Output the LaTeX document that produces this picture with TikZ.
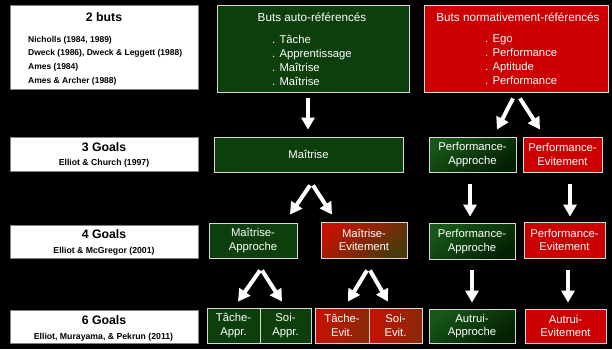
\documentclass[tikz,border=0pt]{standalone}
\usepackage{fontspec}
\setmainfont{Liberation Sans}
\usetikzlibrary{arrows.meta,calc}
\definecolor{gflat}{HTML}{0C3F0C}
\definecolor{gtop}{HTML}{175717}
\definecolor{gbot}{HTML}{032003}
\definecolor{rflat}{HTML}{CC0000}
\definecolor{rtl}{HTML}{C41200}
\definecolor{olbr}{HTML}{4A3A0A}
\definecolor{rbr}{HTML}{8A2A08}
\definecolor{boxline}{HTML}{D8D8D8}
\tikzset{
  cbox/.style={draw=boxline, line width=0.8pt, inner sep=0pt, text=white,
    align=center, font=\fontsize{11.3}{13.5}\selectfont},
  greenbox/.style={cbox, fill=gflat},
  greengrad/.style={cbox, top color=gtop, bottom color=gbot, shading angle=35},
  redbox/.style={cbox, fill=rflat},
  mixbox/.style={cbox, top color=rtl, bottom color=olbr, shading angle=40},
  redgrad/.style={cbox, left color=rtl, right color=rbr},
  wbox/.style={draw=gray, line width=0.6pt, fill=white, inner sep=0pt},
  wtitle/.style={font=\bfseries\fontsize{12.3}{14}\selectfont, text=black, inner sep=0pt},
  wref/.style={font=\bfseries\fontsize{8.7}{10}\selectfont, text=black, inner sep=0pt},
  ctitle/.style={font=\fontsize{11.7}{13}\selectfont, text=white, inner sep=0pt},
  clist/.style={font=\fontsize{11.3}{14}\selectfont, text=white, inner sep=0pt, align=left},
  barrow/.style={draw=white, line width=4pt, -{Triangle[width=13pt,length=12pt]}}
}
\begin{document}
\begin{tikzpicture}[x=1pt,y=-1pt]
\fill[black] (0,0) rectangle (612,349);
\useasboundingbox (0,0) rectangle (612,349);

% left white boxes
\node[wbox, minimum width=188pt, minimum height=84pt] (l1) at (104,47) {};
\node[wtitle] (l1t) at (104,17) {2 buts};
\node[wref, align=left, anchor=west, font=\bfseries\fontsize{8.5}{13.7}\selectfont] (l1r) at (28,60.5)
  {Nicholls (1984, 1989)\\Dweck (1986), Dweck \& Leggett (1988)\\Ames (1984)\\Ames \& Archer (1988)};

\node[wbox, minimum width=188pt, minimum height=34pt] (l2) at (104,154) {};
\node[wtitle] (l2t) at (104,147) {3 Goals};
\node[wref] (l2r) at (104,163) {Elliot \& Church (1997)};

\node[wbox, minimum width=188pt, minimum height=33pt] (l3) at (104,241.5) {};
\node[wtitle] (l3t) at (104,234.5) {4 Goals};
\node[wref] (l3r) at (104,251) {Elliot \& McGregor (2001)};

\node[wbox, minimum width=188pt, minimum height=33pt] (l4) at (104,326.5) {};
\node[wtitle] (l4t) at (104,320) {6 Goals};
\node[wref] (l4r) at (103.5,337) {Elliot, Murayama, \& Pekrun (2011)};

% row 1
\node[greenbox, minimum width=192pt, minimum height=87pt] (g1) at (313,48.5) {};
\node[ctitle] (g1t) at (312,17) {Buts auto-référencés};
\node[clist, anchor=west] (g1l) at (272,60) {. Tâche\\. Apprentissage\\. Maîtrise\\. Maîtrise};

\node[redbox, minimum width=184pt, minimum height=87pt] (r1) at (516,48.5) {};
\node[ctitle] (r1t) at (518,17) {Buts normativement-référencés};
\node[clist, anchor=west] (r1l) at (485,60) {. Ego\\. Performance\\. Aptitude\\. Performance};

% row 3
\node[greenbox, minimum width=189pt, minimum height=35pt] (m3) at (308.5,154.5) {Maîtrise};
\node[greengrad, minimum width=87pt, minimum height=35pt] (pa3) at (472.5,154.5) {Performance-\\Approche};
\node[redbox, minimum width=79pt, minimum height=35pt] (pe3) at (562.5,154.5) {Performance-\\Evitement};

% row 4
\node[greenbox, minimum width=88pt, minimum height=35pt] (ma4) at (253,240.5) {Maîtrise-\\Approche};
\node[mixbox, minimum width=86pt, minimum height=36pt] (me4) at (364,240) {Maîtrise-\\Evitement};
\node[greengrad, minimum width=86pt, minimum height=36pt] (pa4) at (472,241.5) {Performance-\\Approche};
\node[redbox, minimum width=81pt, minimum height=36pt] (pe4) at (564.5,240) {Performance-\\Evitement};

% row 6
\node[greenbox, minimum width=53pt, minimum height=35pt] (ta) at (233.5,325.5) {Tâche-\\Appr.};
\node[greenbox, minimum width=51pt, minimum height=35pt] (sa) at (285.5,325.5) {Soi-\\Appr.};
\node[redgrad, minimum width=54pt, minimum height=35pt] (te) at (342,325.5) {Tâche-\\Evit.};
\node[redgrad, minimum width=53pt, minimum height=35pt] (se) at (395.5,325.5) {Soi-\\Evit.};
\node[greengrad, minimum width=86pt, minimum height=34pt] (aa) at (472,326) {Autrui-\\Approche};
\node[redbox, minimum width=81pt, minimum height=34pt] (ae) at (565.5,326) {Autrui-\\Evitement};

% arrows
\draw[barrow] ($(g1.south)+(-5,6)$) -- ($(m3.north)+(-0.5,-7)$);
\draw[barrow] ($(r1.south)+(-3,6)$) -- ($(pa3.north)+(24.5,-7)$);
\draw[barrow] ($(r1.south)+(4,6)$) -- ($(pe3.north)+(-22.5,-7)$);

\draw[barrow] ($(m3.south)+(1.5,13)$) -- ($(ma4.north)+(37,-8)$);
\draw[barrow] ($(m3.south)+(4.5,13)$) -- ($(me4.north)+(-32,-7)$);
\draw[barrow] ($(pa3.south)+(-2.5,12)$) -- ($(pa4.north)+(-2,-6.5)$);
\draw[barrow] ($(pe3.south)+(7.5,12)$) -- ($(pe4.north)+(5.5,-5)$);

\draw[barrow] ($(ma4.south)+(7,12)$) -- ($(ta.north)+(4.5,-6)$);
\draw[barrow] ($(ma4.south)+(9,12)$) -- ($(sa.north)+(-3.5,-6)$);
\draw[barrow] ($(me4.south)+(3,12)$) -- ($(te.north)+(6,-6)$);
\draw[barrow] ($(me4.south)+(6,12)$) -- ($(se.north)+(-7.5,-6)$);
\draw[barrow] ($(pa4.south)+(0,10.5)$) -- ($(aa.north)+(0,-6)$);
\draw[barrow] ($(pe4.south)+(3.5,12)$) -- ($(ae.north)+(2.5,-6)$);
\end{tikzpicture}
\end{document}
